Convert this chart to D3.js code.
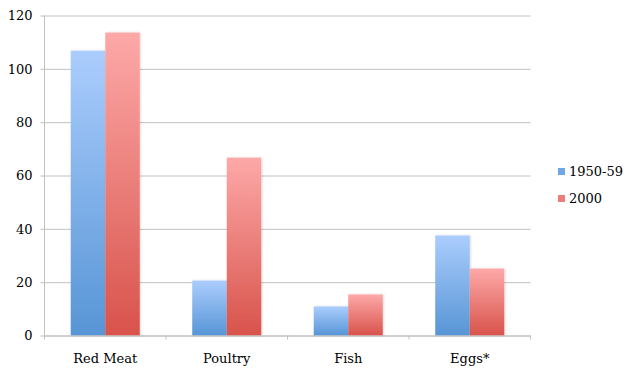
<!DOCTYPE html>
<html><head><meta charset="utf-8">
<script src="https://cdn.jsdelivr.net/npm/d3@7"></script>
<style>body{margin:0;background:#fff}svg{display:block}text{font-family:"DejaVu Serif",serif;font-size:13px;fill:#000}</style>
</head><body><svg id="c" width="640" height="370"></svg>
<script>
const categories = ["Red Meat","Poultry","Fish","Eggs*"];
const seriesNames = ["1950-59","2000"];
const values1950 = [106.8, 20.6, 10.9, 37.5];
const values2000 = [113.6, 66.7, 15.4, 25.1];
const yTicks = [0,20,40,60,80,100,120];
const FONT = '"DejaVu Serif", serif';

const svg = d3.select("#c");
const m = {l:44.5, r:530.5, t:15.5, b:335.5};
const x = d3.scaleBand().domain(categories).range([m.l, m.r]).paddingInner(0).paddingOuter(0);
const x1 = d3.scaleBand().domain(seriesNames).range([0, x.bandwidth()]).paddingOuter(0.76).paddingInner(0);
const y = d3.scaleLinear().domain([0,120]).range([m.b, m.t]);

const defs = svg.append("defs");
const grads = [["gB","#abcdfd","#5795d6"],["gR","#fda9a8","#d8534b"]];
grads.forEach(([id,c1,c2])=>{
  const g = defs.append("linearGradient").attr("id",id).attr("x1",0).attr("y1",0).attr("x2",0).attr("y2",1);
  g.append("stop").attr("offset","0").attr("stop-color",c1);
  g.append("stop").attr("offset","1").attr("stop-color",c2);
});
const f = defs.append("filter").attr("id","sh").attr("x","-10%").attr("y","-10%").attr("width","130%").attr("height","130%");
f.append("feDropShadow").attr("dx",1).attr("dy",0).attr("stdDeviation",1).attr("flood-color","#000").attr("flood-opacity",0.15);

// gridlines
const yAxis = d3.axisLeft(y).tickValues(yTicks).tickSize(-(m.r-m.l)).tickPadding(12).tickFormat(d3.format("d"));
const ga = svg.append("g").attr("transform",`translate(${m.l},0)`).call(yAxis).attr("font-family",FONT).attr("font-size",13);
ga.select(".domain").remove();
ga.selectAll(".tick line").attr("stroke","#c0c0c0").attr("stroke-width",1).attr("x1",-4);
ga.selectAll(".tick text").attr("fill","#000");
svg.append("line").attr("x1",m.l).attr("x2",m.l).attr("y1",m.t).attr("y2",m.b).attr("stroke","#c0c0c0");

// bars
const data = categories.map((c,i)=>({c, v:[values1950[i], values2000[i]]}));
const grp = svg.append("g").selectAll("g").data(data).join("g").attr("transform",d=>`translate(${x(d.c)},0)`);
grp.selectAll("rect").data(d=>d.v.map((v,j)=>({s:seriesNames[j],v,j}))).join("rect")
  .attr("x",d=>x1(d.s)).attr("width",x1.bandwidth())
  .attr("y",d=>y(d.v)).attr("height",d=>y(0)-y(d.v))
  .attr("fill",d=>d.j===0?"url(#gB)":"url(#gR)").attr("filter","url(#sh)");

// x axis
const xAxis = d3.axisBottom(x).tickSize(0).tickPadding(18);
const gx = svg.append("g").attr("transform",`translate(0,${m.b})`).call(xAxis).attr("font-family",FONT).attr("font-size",13);
gx.select(".domain").attr("stroke","#c0c0c0");
gx.selectAll(".tick text").attr("fill","#000");
const bounds = categories.map(c=>x(c)).concat([x.range()[1]]);
svg.append("g").selectAll("line").data(bounds).join("line")
  .attr("x1",d=>d).attr("x2",d=>d).attr("y1",m.b).attr("y2",m.b+4).attr("stroke","#c0c0c0");

// legend
const lg = svg.append("g").attr("transform","translate(558,0)");
const ly = [171, 198];
seriesNames.forEach((s,i)=>{
  lg.append("rect").attr("x",0).attr("y",ly[i]-3).attr("width",7).attr("height",7).attr("fill",i===0?"#6fa7e6":"#ee7c78");
  lg.append("text").attr("x",11).attr("y",ly[i]+5).attr("font-family",FONT).text(s);
});
</script></body></html>
